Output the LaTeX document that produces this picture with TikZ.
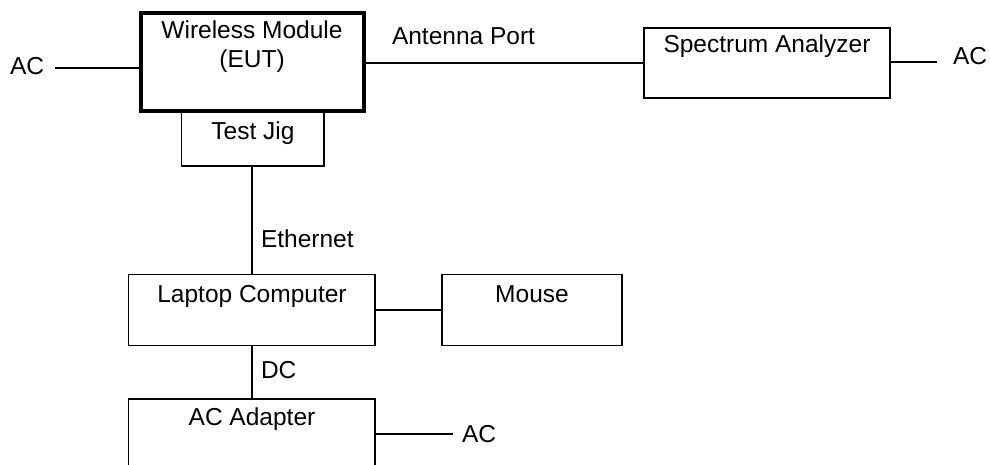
\documentclass[tikz,border=0pt]{standalone}
\usepackage{fontspec}
\setmainfont{Liberation Sans}
\begin{document}
\begin{tikzpicture}[x=1pt,y=-1pt,
  box/.style={draw, line width=1.7pt, inner sep=0pt, outer sep=0pt, rectangle},
  thickbox/.style={box, line width=4pt},
  wire/.style={line width=1.7pt},
  lbl/.style={inner sep=0pt, outer sep=0pt, font=\fontsize{24.5}{28}\selectfont}]
\clip (0,0) rectangle (990,465);
\fill[white] (0,0) rectangle (990,465);

% boxes
\node[box, minimum width=142.5pt, minimum height=54pt] (tj) at (252.75,139) {};
\node[thickbox, minimum width=223.2pt, minimum height=98.3pt] (wm) at (252.1,62.15) {};
\node[box, minimum width=246pt, minimum height=70pt] (sa) at (767,63) {};
\node[box, minimum width=246.5pt, minimum height=71pt] (lap) at (251.75,310) {};
\node[box, minimum width=180pt, minimum height=71pt] (mouse) at (532,310) {};
\node[box, minimum width=246.5pt, minimum height=91pt] (ad) at (251.75,444.5) {};

% box captions
\node[lbl, anchor=base] (wm-t1) at (252,39) {Wireless Module};
\node[lbl, anchor=base] (wm-t2) at (252,68) {(EUT)};
\node[lbl, anchor=base] (tj-t) at (253,140) {Test Jig};
\node[lbl, anchor=base] (sa-t) at (767,53) {Spectrum Analyzer};
\node[lbl, anchor=base] (lap-t) at (252,302) {Laptop Computer};
\node[lbl, anchor=base] (mouse-t) at (532,302) {Mouse};
\node[lbl, anchor=base] (ad-t) at (252,425) {AC Adapter};

% free labels
\node[lbl, anchor=base west] (acL) at (10,75) {AC};
\node[lbl, anchor=base west] (acR) at (953,65) {AC};
\node[lbl, anchor=base west] (acA) at (462,442) {AC};
\node[lbl, anchor=base west] (ant) at (392,45) {Antenna Port};
\node[lbl, anchor=base west] (eth) at (261,247) {Ethernet};
\node[lbl, anchor=base west] (dc) at (261,378) {DC};

% cable ends
\coordinate (acLend) at (55,68);
\coordinate (acRend) at (937,62);
\coordinate (acAend) at (453,434);

% connectors
\draw[wire] (acLend) -- (acLend -| wm.west);
\draw[wire] (wm.east |- sa.west) -- (sa.west);
\draw[wire] (sa.east |- acRend) -- (acRend);
\draw[wire] (tj.south -| lap.north) -- (lap.north);
\draw[wire] (lap.east) -- (mouse.west);
\draw[wire] (lap.south) -- (lap.south |- ad.north);
\draw[wire] (ad.east |- acAend) -- (acAend);
\end{tikzpicture}
\end{document}
